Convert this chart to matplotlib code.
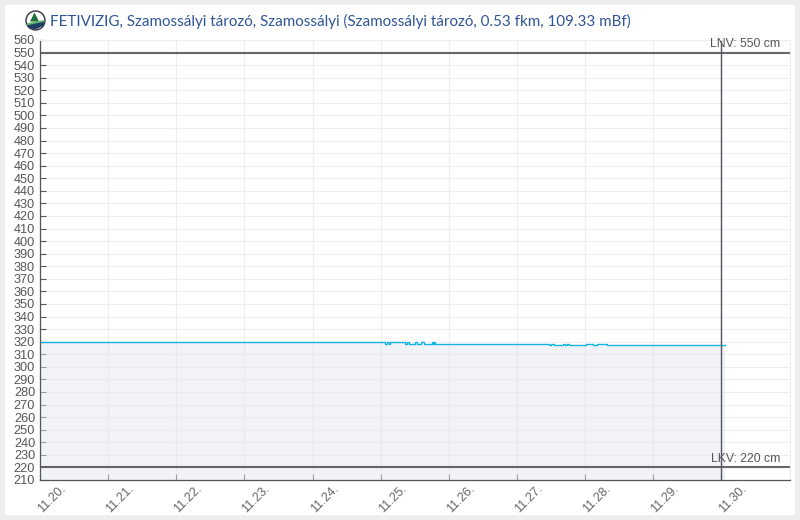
import matplotlib
matplotlib.use("Agg")
import matplotlib.pyplot as plt
from matplotlib.patches import Rectangle, Circle, Polygon

# days of november, fractional, water level in cm
days = [20.0, 20.08, 25.07, 25.09, 25.12, 25.14, 25.18, 25.35, 25.39, 25.42, 25.51, 25.54,
        25.59, 25.63, 25.75, 25.77, 25.78, 25.8, 27.45, 27.47, 27.5, 27.55, 27.67, 27.7, 27.74,
        27.77, 28.02, 28.11, 28.18, 28.32, 30.05]
level = [319.8, 319.6, 318.2, 319.6, 318.2, 319.6, 319.6, 318.2, 319.6, 318.2, 319.6, 318.2,
         319.6, 318.2, 319.6, 318.2, 319.6, 318, 318.2, 317.5, 318.2, 317.5, 318.2, 317.5, 318.2,
         317.5, 318.2, 317.5, 318.2, 317.4, 317.4]

yticks = list(range(210, 570, 10))
xticks = list(range(20, 31))
xlabels = [f"11.{d}." for d in xticks]
lnv = 550
lkv = 220
now = 30
title = "FETIVIZIG, Szamossályi tározó, Szamossályi (Szamossályi tározó, 0.53 fkm, 109.33 mBf)"

W, H = 800, 520
plt.rcParams['font.family'] = ['Liberation Sans', 'DejaVu Sans']
fig = plt.figure(figsize=(W / 100, H / 100), dpi=100, facecolor="#eeeeee")
fig.add_artist(Rectangle((5 / W, 1 - 515 / H), 790 / W, 510 / H, transform=fig.transFigure,
                         facecolor="white", edgecolor="none", zorder=-5))
ax = fig.add_axes([40 / W, 1 - 480 / H, 749.5 / W, 440 / H])
ax.patch.set_alpha(0)
ax.set_xlim(20, 31)
ax.set_ylim(210, 560)

ax.set_yticks(yticks)
ax.set_xticks(xticks)
ax.set_xticklabels(xlabels, rotation=45, ha="left", va="center", rotation_mode="anchor")
ax.grid(True, color="#eeeeee", lw=0.8)
ax.set_axisbelow(True)
ax.tick_params(axis="y", direction="in", length=4, width=0.8, color="#555555", labelcolor="#555555",
               labelsize=9.2, pad=3.5)
ax.tick_params(axis="x", direction="in", length=4, width=0.8, color="#555555", labelcolor="#666666",
               labelsize=9, pad=22.5)
ax.spines["top"].set_color("#eeeeee")
ax.spines["top"].set_linewidth(0.8)
ax.spines["right"].set_color("#eeeeee")
ax.spines["right"].set_linewidth(0.8)
for s in ["left", "bottom"]:
    ax.spines[s].set_color("#555555")
    ax.spines[s].set_linewidth(0.9)

ax.fill_between(days, level, 210, step="post", color="#e6e8f2", alpha=0.5, lw=0)
ax.step(days, level, where="post", color="#14b4e6", lw=1.0)
ax.axhline(lnv, color="#666666", lw=1.5)
ax.axhline(lkv, color="#666666", lw=1.5)
ax.axvline(now, color="#555560", lw=1.0)
ax.text(30.87, lnv + 6.5, f"LNV: {lnv} cm", ha="right", va="center", fontsize=8.8, color="#555555")
ax.text(30.87, lkv + 6.5, f"LKV: {lkv} cm", ha="right", va="center", fontsize=8.8, color="#555555")

fig.text(50 / W, 1 - 21 / H, title, fontsize=10.9, color="#2f5597", va="center", family="Lato")

# small logo next to the title
logo = fig.add_axes([25 / W, 1 - 31 / H, 21 / W, 21 / H])
logo.set_xlim(-1.05, 1.05)
logo.set_ylim(-1.05, 1.05)
logo.axis("off")
logo.add_patch(Circle((0, 0), 0.95, facecolor="white", edgecolor="#333344", lw=1))
logo.add_patch(Polygon([(-0.55, -0.1), (-0.1, 0.8), (0.35, -0.1)], facecolor="#1f6e35", edgecolor="none"))
logo.add_patch(Polygon([(-0.85, -0.45), (0, -0.2), (0.9, -0.1), (0.85, -0.5), (0, -0.9), (-0.6, -0.75)],
                       facecolor="#1f3f66", edgecolor="none"))
logo.add_patch(Polygon([(-0.85, -0.3), (0, -0.1), (0.9, 0.05), (0.9, -0.12), (0, -0.3), (-0.85, -0.48)],
                       facecolor="#5fae6a", edgecolor="none"))

fig.savefig("out.png", dpi=100, facecolor=fig.get_facecolor())
